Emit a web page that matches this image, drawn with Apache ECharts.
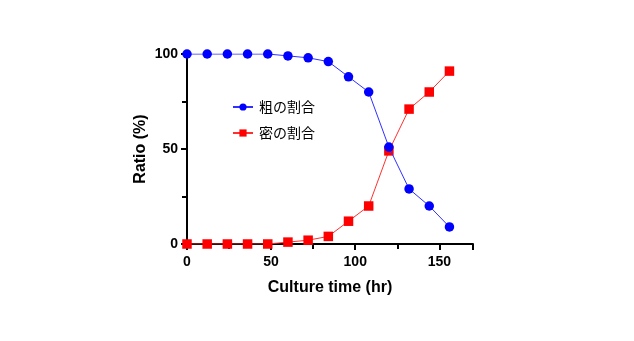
<!DOCTYPE html>
<html>
<head>
<meta charset="utf-8">
<script src="https://cdn.jsdelivr.net/npm/echarts@6/dist/echarts.min.js"></script>
<style>
  html, body { margin: 0; padding: 0; background: #fff; }
  #chart { width: 634px; height: 341px; }
</style>
</head>
<body>
<div id="chart"></div>
<script>
// Culture time (hr)
const hours = [0, 12, 24, 36, 48, 60, 72, 84, 96, 108, 120, 132, 144, 156];
// 粗の割合 (%)
const coarseRatio = [100, 100, 100, 100, 100, 99, 98, 96, 88, 80, 51, 29, 20, 9];
// 密の割合 (%)
const denseRatio = [0, 0, 0, 0, 0, 1, 2, 4, 12, 20, 49, 71, 80, 91];
const xTicks = [0, 50, 100, 150];
const yTicks = [0, 50, 100];

const pairs = (xs, ys) => xs.map((x, i) => [x, ys[i]]);

const chart = echarts.init(document.getElementById('chart'));
const font = 'Liberation Sans, Arial, sans-serif';
const cjk = '"Noto Sans CJK JP", sans-serif';

const axisCommon = {
  axisLine: { show: true, lineStyle: { color: '#000', width: 2 } },
  axisTick: { show: true, length: 6, lineStyle: { color: '#000', width: 2 } },
  minorTick: { show: true, splitNumber: 2, length: 5, lineStyle: { color: '#000', width: 2 } },
  splitLine: { show: false },
  nameTextStyle: { color: '#000', fontFamily: font, fontWeight: 'bold', fontSize: 16 },
};

const tickLabel = { color: '#000', fontFamily: font, fontWeight: 'bold', fontSize: 14 };

chart.setOption({
  animation: false,
  backgroundColor: '#fff',
  grid: { left: 187, right: 161, top: 54, bottom: 97, containLabel: false },
  legend: {
    left: 227, top: 95, orient: 'vertical', itemGap: 12,
    itemWidth: 20, itemHeight: 9,
    textStyle: { fontFamily: cjk, fontSize: 14, color: '#000', padding: [0, 0, 0, 1] },
    data: ['粗の割合', '密の割合']
  },
  xAxis: Object.assign({}, axisCommon, {
    type: 'value', min: 0, max: 170, interval: 50,
    name: 'Culture time (hr)', nameLocation: 'middle', nameGap: 36,
    axisLabel: Object.assign({}, tickLabel, {
      margin: 11,
      formatter: v => xTicks.includes(v) ? String(v) : ''
    })
  }),
  yAxis: Object.assign({}, axisCommon, {
    type: 'value', min: 0, max: 100, interval: 50,
    name: 'Ratio (%)', nameLocation: 'middle', nameGap: 38, nameRotate: 90,
    axisLabel: Object.assign({}, tickLabel, {
      margin: 9,
      formatter: v => yTicks.includes(v) ? String(v) : ''
    })
  }),
  series: [
    {
      name: '粗の割合', type: 'line', data: pairs(hours, coarseRatio),
      symbol: 'circle', symbolSize: 9.5, z: 3,
      itemStyle: { color: '#0000ff' },
      lineStyle: { color: '#3030ff', width: 1 }
    },
    {
      name: '密の割合', type: 'line', data: pairs(hours, denseRatio),
      symbol: 'rect', symbolSize: 9.5, z: 2,
      itemStyle: { color: '#ff0000' },
      lineStyle: { color: '#ff3030', width: 1 }
    }
  ]
});
</script>
</body>
</html>
